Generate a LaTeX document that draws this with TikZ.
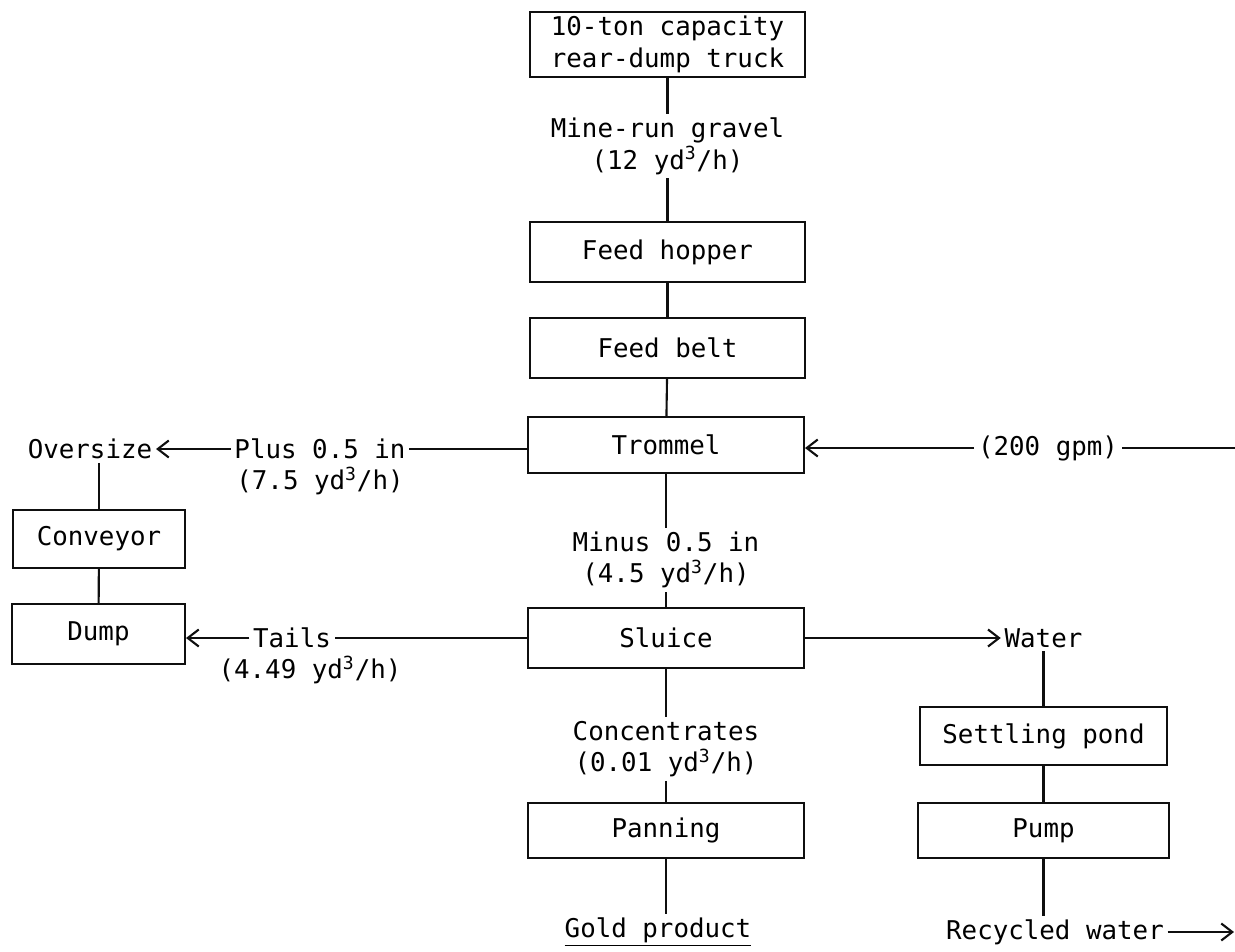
\documentclass[tikz,border=0pt]{standalone}
\usepackage{fontspec}
\setmonofont{DejaVu Sans Mono}
\usepackage{tikz}
\usetikzlibrary{arrows.meta, positioning, calc}
\definecolor{inkdark}{RGB}{15,15,15}
\newcommand{\cube}{\textsuperscript{3}}
\tikzset{
  unit/.style={rectangle, draw=inkdark, fill=white, align=center,
    font=\ttfamily\fontsize{14.7}{18}\selectfont, line width=1.2pt, inner sep=0pt},
  flow/.style={align=center, inner sep=2pt,
    font=\ttfamily\fontsize{14.7}{18}\selectfont},
  arrow/.style={-{Straight Barb[length=0.22cm, width=0.34cm, line width=1.2pt]},
    line width=1.2pt, color=inkdark},
  line/.style={line width=1.2pt, color=inkdark}
}

\begin{document}
\begin{tikzpicture}[x=0.02cm, y=-0.02cm]
  \useasboundingbox (0,0) rectangle (1235,951);

  % main column
  \node[unit, minimum width=5.5cm, minimum height=1.3cm] (truck) at (667.5,44.5) {10-ton capacity\\rear-dump truck};
  \node[flow] (gravel) at (667.5,146) {Mine-run gravel\\(12 yd\cube/h)};
  \node[unit, minimum width=5.5cm, minimum height=1.2cm] (hopper) at (667.5,252) {Feed hopper};
  \node[unit, minimum width=5.5cm, minimum height=1.2cm] (belt) at (667.5,348) {Feed belt};
  \node[unit, minimum width=5.52cm, minimum height=1.12cm] (trommel) at (666,445) {Trommel};
  \node[flow] (minus) at (666,560) {Minus 0.5 in\\(4.5 yd\cube/h)};
  \node[unit, minimum width=5.52cm, minimum height=1.2cm] (sluice) at (666,638) {Sluice};
  \node[flow] (conc) at (666,749) {Concentrates\\(0.01 yd\cube/h)};
  \node[unit, minimum width=5.52cm, minimum height=1.1cm] (panning) at (666,830.5) {Panning};
  \node[flow] (gold) at (658,932) {\underline{Gold product}};

  \draw[line] (truck) -- (gravel);
  \draw[line] (gravel) -- (hopper);
  \draw[line] (hopper) -- (belt);
  \draw[line] (belt) -- (trommel);
  \draw[line] (trommel) -- (minus);
  \draw[line] (minus) -- (sluice);
  \draw[line] (sluice) -- (conc);
  \draw[line] (conc) -- (panning);
  \draw[line] (panning) -- (panning |- gold.north);

  % oversize side
  \node[flow] (oversize) at (90,449) {Oversize};
  \node[flow] (plus) at (320,449) {Plus 0.5 in};
  \node[flow] (plusrate) at (320,481) {(7.5 yd\cube/h)};
  \node[unit, minimum width=3.44cm, minimum height=1.16cm] (conveyor) at (99,539) {Conveyor};
  \node[unit, minimum width=3.46cm, minimum height=1.2cm] (dump) at (98.5,634) {Dump};
  \node[flow] (tails) at (292,638) {Tails};
  \node[flow] (tailsrate) at (310,670) {(4.49 yd\cube/h)};

  \draw[line] (trommel.west |- plus) -- (plus);
  \draw[arrow] (plus) -- (oversize);
  \draw[line] (conveyor.north |- oversize.south) -- (conveyor);
  \draw[line] (conveyor) -- (dump);
  \draw[line] (sluice.west |- tails) -- (tails);
  \draw[arrow] (tails) -- (dump.east |- tails);

  % water side
  \coordinate (inR) at (1235,448);
  \coordinate (outR) at (1234,932);
  \node[flow] (gpm) at (1048,448) {(200 gpm)};
  \node[flow] (water) at (1043.5,638) {Water};
  \node[unit, minimum width=4.94cm, minimum height=1.16cm] (settling) at (1043.5,736) {Settling pond};
  \node[unit, minimum width=5.02cm, minimum height=1.1cm] (pump) at (1043.5,830.5) {Pump};
  \node[flow] (recycled) at (1055,932) {Recycled water};

  \draw[line] (inR) -- (gpm);
  \draw[arrow] (gpm) -- (trommel.east |- gpm);
  \draw[arrow] (sluice.east |- water) -- (water);
  \draw[line] (water) -- (settling);
  \draw[line] (settling) -- (pump);
  \draw[line] (pump) -- (pump |- recycled.north);
  \draw[arrow] (recycled) -- (outR);
\end{tikzpicture}
\end{document}
